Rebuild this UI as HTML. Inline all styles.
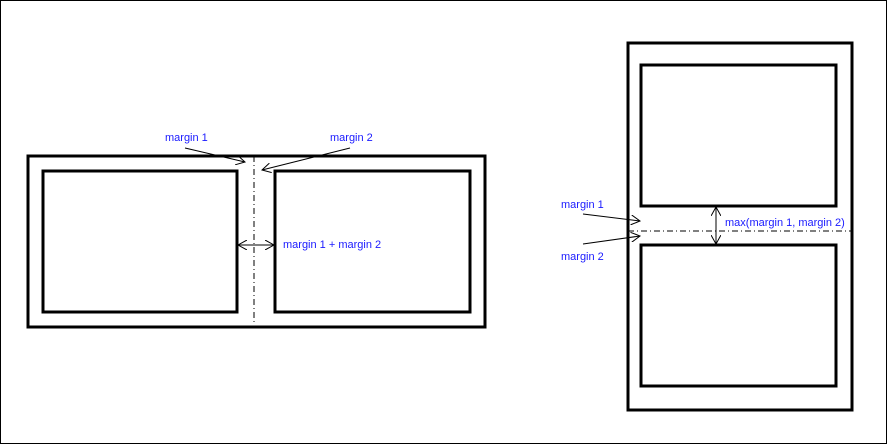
<!DOCTYPE html>
<html><head><style>html,body{margin:0;padding:0;background:#fff}svg{display:block}</style></head><body>
<svg width="887" height="444" xmlns="http://www.w3.org/2000/svg" font-family="Liberation Sans, sans-serif" font-size="11">
<defs><marker id="a" markerWidth="10" markerHeight="10" refX="9" refY="5" orient="auto" markerUnits="userSpaceOnUse"><path d="M0,0 L9,5 L0,10" fill="none" stroke="#000" stroke-width="1"/></marker></defs>
<rect x="0.5" y="0.5" width="886" height="443" fill="#fff" stroke="#000"/>
<g fill="none" stroke="#000" stroke-width="3">
<rect x="28" y="156" width="457" height="171"/>
<rect x="43" y="171" width="194" height="141"/>
<rect x="275" y="171" width="195" height="141"/>
<rect x="628" y="43" width="224" height="367"/>
<rect x="641" y="65" width="195" height="141"/>
<rect x="641" y="245" width="195" height="141"/>
</g>
<g stroke="#000" stroke-width="1" fill="none">
<line x1="254" y1="156" x2="254" y2="325" stroke-dasharray="6,3,1,3"/>
<line x1="628" y1="231" x2="852" y2="231" stroke-dasharray="6,3,1,3"/>
<line x1="185" y1="148" x2="245" y2="162" marker-end="url(#a)"/>
<line x1="350" y1="148" x2="262" y2="170" marker-end="url(#a)"/>
<line x1="238" y1="245" x2="274" y2="245" marker-end="url(#a)"/>
<line x1="274" y1="245" x2="238" y2="245" marker-end="url(#a)"/>
<line x1="583" y1="214" x2="640" y2="221" marker-end="url(#a)"/>
<line x1="583" y1="244" x2="640" y2="236" marker-end="url(#a)"/>
<line x1="716" y1="207" x2="716" y2="244" marker-end="url(#a)"/>
<line x1="716" y1="244" x2="716" y2="207" marker-end="url(#a)"/>
</g>
<g fill="#1a1aff">
<text x="165" y="141">margin 1</text>
<text x="330" y="141">margin 2</text>
<text x="283" y="248">margin 1 + margin 2</text>
<text x="561" y="208">margin 1</text>
<text x="561" y="260">margin 2</text>
<text x="725" y="226">max(margin 1, margin 2)</text>
</g>
</svg>
</body></html>
